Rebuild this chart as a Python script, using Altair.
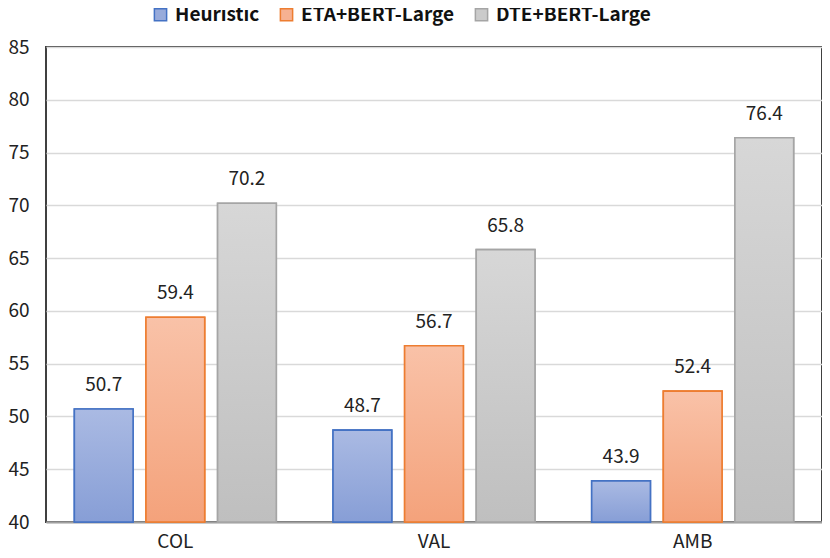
import altair as alt
import pandas as pd

categories = ["COL", "VAL", "AMB"]
series = ["Heuristic", "ETA+BERT-Large", "DTE+BERT-Large"]
heuristic = [50.7, 48.7, 43.9]
eta = [59.4, 56.7, 52.4]
dte = [70.2, 65.8, 76.4]

fill_mid = ["#98abdb", "#f6b192", "#cbcbcb"]
strokes = ["#4472c4", "#ed7d31", "#a5a5a5"]
grad_top = ["#aabae3", "#f9c2a8", "#d7d7d7"]
grad_bot = ["#879ed6", "#f4a27b", "#bfbfbf"]

rows = []
for s, vals in zip(series, [heuristic, eta, dte]):
    for c, v in zip(categories, vals):
        rows.append({"cat": c, "series": s, "value": v})
df = pd.DataFrame(rows)

FONT = "Noto Sans CJK SC"

x = alt.X("cat:N", sort=categories, title=None,
          scale=alt.Scale(paddingInner=0, paddingOuter=0),
          axis=alt.Axis(labelAngle=0, labelFontSize=19, labelColor="#222",
                        labelFont=FONT, labelPadding=10, ticks=False,
                        domainColor="#a0a0a0", domainWidth=2, grid=False))
xo = alt.XOffset("series:N", sort=series,
                 scale=alt.Scale(domain=series, paddingInner=0.18, paddingOuter=0.396))
y = alt.Y("value:Q", title=None,
          scale=alt.Scale(domain=[40, 85], nice=False, zero=False),
          axis=alt.Axis(values=list(range(40, 90, 5)), labelFontSize=19,
                        labelColor="#222", labelFont=FONT, labelPadding=17,
                        ticks=False, domain=False, gridColor="#d9d9d9",
                        gridWidth=1.5))

base = alt.Chart(df).mark_bar(strokeWidth=1.6).encode(
    x=x, xOffset=xo, y=y, y2=alt.datum(40),
    color=alt.Color("series:N", sort=series,
                    scale=alt.Scale(domain=series, range=fill_mid),
                    legend=alt.Legend(title=None, orient="none", direction="horizontal",
                                      legendX=105, legendY=-42, symbolType="square",
                                      symbolSize=150, symbolStrokeWidth=1.5,
                                      labelFontSize=19, labelFontWeight="bold",
                                      labelFont=FONT, labelColor="#111",
                                      labelOffset=5, columnPadding=17)),
    stroke=alt.Stroke("series:N", sort=series,
                      scale=alt.Scale(domain=series, range=strokes), legend=None),
)

layers = [base]
for i, s in enumerate(series):
    grad = alt.Gradient(gradient="linear", x1=0, y1=0, x2=0, y2=1,
                        stops=[alt.GradientStop(offset=0, color=grad_top[i]),
                               alt.GradientStop(offset=1, color=grad_bot[i])])
    layers.append(
        alt.Chart(df).transform_filter(alt.datum.series == s)
        .mark_bar(fill=grad, stroke=strokes[i], strokeWidth=1.6)
        .encode(x=x, xOffset=xo, y=y, y2=alt.datum(40))
    )

text = alt.Chart(df).mark_text(baseline="alphabetic", dy=-18, fontSize=19,
                               font=FONT, color="#222").encode(
    x=x, xOffset=xo, y=y, text=alt.Text("value:Q", format=".1f"))
layers.append(text)

chart = alt.layer(*layers).properties(
    width=776, height=475,
    autosize=alt.AutoSizeParams(type="none"),
    padding={"left": 38, "top": 39, "right": 0, "bottom": 28},
).configure_view(stroke="#404040", strokeWidth=2)

chart.save("out.html", embed_options={"renderer": "svg", "actions": False})
